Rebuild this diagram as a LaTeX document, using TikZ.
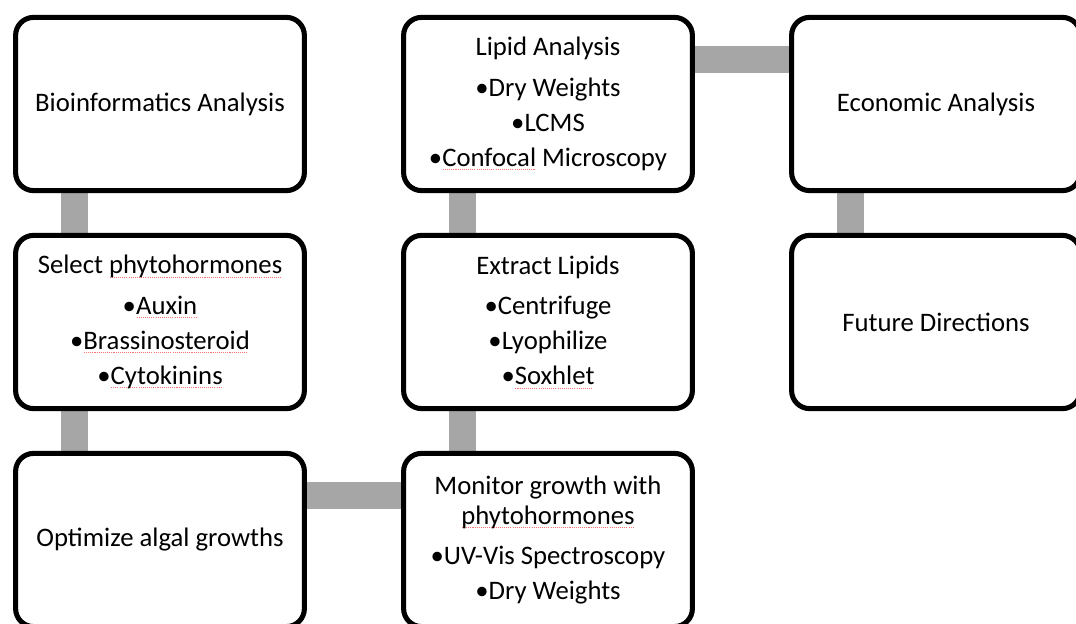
\documentclass[tikz,border=0pt]{standalone}
\usepackage{fontspec}
\setmainfont{Carlito}
\usetikzlibrary{backgrounds}
\definecolor{barGray}{HTML}{A6A6A6}
\newcommand{\redmark}[1]{\setbox0=\hbox{#1}\leavevmode\rlap{\color{red!55}\raisebox{-2.6pt}{\hbox to \wd0{\leaders\hbox to 1.5pt{\hss\vrule width 0.75pt height 0.45pt\hss}\hfill}}}\box0\relax}
\tikzset{
  stage/.style={draw, line width=3.6pt, rounded corners=0.45cm, fill=white,
    minimum width=7.22cm, minimum height=4.33cm, align=center,
    font=\fontsize{19}{25}\selectfont},
  link/.style={draw=barGray, line width=0.675cm}
}
\begin{document}
\begin{tikzpicture}
\useasboundingbox (0,0) rectangle (26.9,-15.6);

\node [stage] (bio) at (4,-2.6) {Bioinformatics Analysis};
\node [stage] (sel) at (4,-8.05) {Select \redmark{phytohormones}\\[3.5pt] \textbullet\redmark{Auxin}\\ \textbullet\redmark{Brassinosteroid}\\ \textbullet\redmark{Cytokinins}};
\node [stage] (opt) at (4,-13.5) {Optimize algal growths};

\node [stage] (mon) at (13.7,-13.5) {Monitor growth with\\[-3.6pt] \redmark{phytohormones}\\[3.5pt] \textbullet UV-Vis Spectroscopy\\ \textbullet Dry Weights};
\node [stage] (ext) at (13.7,-8.05) {Extract Lipids\\[3.5pt] \textbullet Centrifuge\\ \textbullet Lyophilize\\ \textbullet\redmark{Soxhlet}};
\node [stage] (lip) at (13.7,-2.6) {Lipid Analysis\\[3.5pt] \textbullet Dry Weights\\ \textbullet LCMS\\ \textbullet\redmark{Confocal} Microscopy};

\node [stage] (eco) at (23.4,-2.6) {Economic Analysis};
\node [stage] (fut) at (23.4,-8.05) {Future Directions};

\begin{scope}[on background layer]
\draw [link] ([xshift=-2.14cm]bio.south) -- ([xshift=-2.14cm]sel.north);
\draw [link] ([xshift=-2.14cm]sel.south) -- ([xshift=-2.14cm]opt.north);
\draw [link] ([yshift=1.1cm]opt.east) -- ([yshift=1.1cm]mon.west);
\draw [link] ([xshift=-2.14cm]mon.north) -- ([xshift=-2.14cm]ext.south);
\draw [link] ([xshift=-2.14cm]ext.north) -- ([xshift=-2.14cm]lip.south);
\draw [link] ([yshift=1.1cm]lip.east) -- ([yshift=1.1cm]eco.west);
\draw [link] ([xshift=-2.14cm]eco.south) -- ([xshift=-2.14cm]fut.north);
\end{scope}
\end{tikzpicture}
\end{document}
